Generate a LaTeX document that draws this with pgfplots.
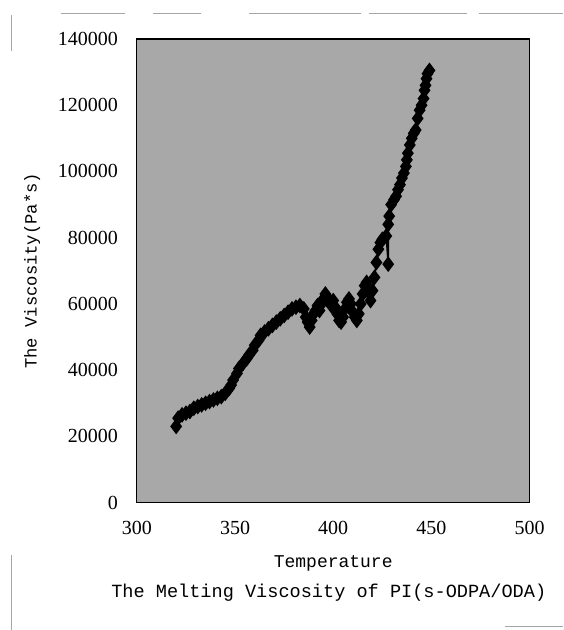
\documentclass[border=0pt]{standalone}
\usepackage{fontspec}
\setmainfont{Liberation Serif}
\setmonofont{Liberation Mono}
\usepackage{pgfplots}
\pgfplotsset{compat=1.18}
\definecolor{bggray}{RGB}{168,168,168}
\begin{document}
\begin{tikzpicture}
\begin{axis}[
  at={(0,0)}, anchor=south west,
  scale only axis, width=196.5pt, height=232pt,
  xmin=300, xmax=500, ymin=0, ymax=140000,
  xtick={300,350,400,450,500},
  xticklabels={300,350,400,450,500},
  ytick={0,20000,40000,60000,80000,100000,120000,140000},
  yticklabels={0,20000,40000,60000,80000,100000,120000,140000},
  scaled y ticks=false,
  major tick length=0pt,
  axis background/.style={fill=bggray},
  axis line style={black, line width=0.6pt},
  tick label style={font=\fontsize{10}{12}\selectfont},
  xticklabel style={yshift=-6pt},
  yticklabel style={xshift=-6pt},
  xlabel={\ttfamily\fontsize{9}{11}\selectfont Temperature},
  ylabel={\ttfamily\fontsize{8.6}{10}\selectfont The Viscosity(Pa*s)},
  xlabel style={yshift=-3.5pt},
  ylabel style={yshift=2pt},
]
\addplot[black, line width=0.8pt, mark=diamond*, mark size=3.3pt, mark options={fill=black}] coordinates {
(320,23000)(321,25500)(323,26500)(325,27000)(327,27500)(329,28500)(331,29000)(333,29500)
(335,30000)(337,30500)(339,31000)(341,31500)(343,32000)(345,33000)(347,34500)(348,35500)
(349,37000)(351,39000)(352,40500)(354,42000)(356,43500)(357,44500)(359,46000)(360,47500)
(362,49000)(363,50500)(365,51500)(367,52500)(369,53500)(371,54500)(373,55500)(375,56500)
(377,57500)(379,58500)(381,59000)(383,59500)(385,58500)(386,56000)(387,54500)(388,53000)
(389,55000)(390,57000)(391,58000)(392,59500)(393,58000)(394,60000)(395,61500)(396,63000)
(397,62000)(398,60500)(399,59500)(400,61000)(401,59000)(402,57000)(403,55000)(404,54500)
(405,56000)(406,58500)(407,60500)(408,61500)(409,60000)(410,57500)(411,56000)(412,55000)
(413,57000)(414,60000)(415,63000)(416,65500)(417,66500)(418,63500)(419,61000)(420,64000)
(421,68000)(422,72500)(423,76500)(424,78500)(425,79500)(427,80500)(428,72000)(428,84000)
(428.5,86500)(429.5,90000)(431,91500)(432,92500)(433,94500)(434,96000)(435,98000)(436,99500)
(437,101500)(437.5,103500)(438,105500)(439,108000)(440,110000)(441,111500)(442,112500)
(443,116000)(444,118500)(445,120000)(446,122000)(446.5,124500)(447,126000)(447.5,128000)
(448,129500)(449,130500)
};
\end{axis}
\node[font=\ttfamily\fontsize{9.3}{11}\selectfont] at (96pt,-45pt) {The Melting Viscosity of PI(s-ODPA/ODA)};
% scan page edge lines
\draw[gray!70, line width=0.5pt] (-38pt,244.5pt) -- (-6pt,244.5pt);
\draw[gray!70, line width=0.5pt] (8pt,244.5pt) -- (32pt,244.5pt);
\draw[gray!70, line width=0.5pt] (56pt,244.5pt) -- (112pt,244.5pt);
\draw[gray!70, line width=0.5pt] (116pt,244.5pt) -- (165pt,244.5pt);
\draw[gray!70, line width=0.5pt] (171pt,244.5pt) -- (213pt,244.5pt);
\draw[gray!70, line width=0.5pt] (-62.5pt,244pt) -- (-62.5pt,226pt);
\draw[gray!70, line width=0.5pt] (-62.5pt,-26pt) -- (-62.5pt,-63.5pt);
\draw[gray!70, line width=0.5pt] (184pt,-62pt) -- (213pt,-62pt);
\path (-68.5pt,-63.5pt) rectangle (213pt,251.5pt);
\end{tikzpicture}
\end{document}
